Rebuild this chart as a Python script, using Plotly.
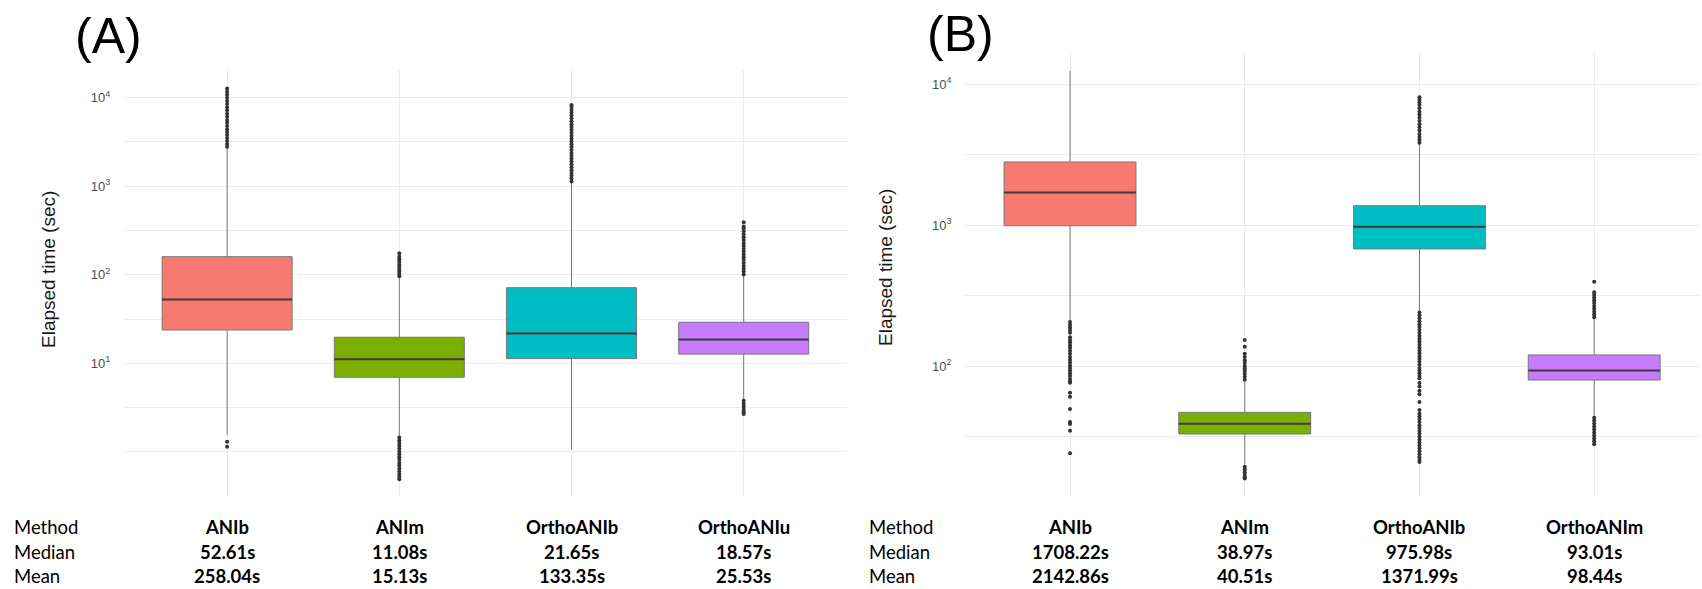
import plotly.graph_objects as go

# ---------------- data ----------------
methods_a = ["ANIb", "ANIm", "OrthoANIb", "OrthoANIu"]
median_a = [52.61, 11.08, 21.65, 18.57]
mean_a = [258.04, 15.13, 133.35, 25.53]
q1_a = [23.8, 6.95, 11.3, 12.7]
q3_a = [160, 19.7, 71.5, 29.1]
lowfence_a = [1.55, 1.52, 1.07, 3.9]
upfence_a = [2750, 94, 1110, 99]
outliers_a = [
    [1.30, 1.14, 2800, 3000, 3250, 3500, 3800, 4100, 4400, 4800, 5200, 5600, 6100,
     6600, 7200, 7800, 8500, 9200, 10000, 10800, 11700, 12700],
    [96, 102, 108, 115, 123, 131, 140, 150, 160, 175,
     1.45, 1.35, 1.26, 1.17, 1.09, 1.01, 0.94, 0.87, 0.81, 0.75, 0.70, 0.65, 0.60,
     0.56, 0.52, 0.49],
    [1130, 1220, 1310, 1410, 1520, 1640, 1770, 1900, 2050, 2210, 2380, 2570, 2770,
     2980, 3210, 3460, 3730, 4020, 4330, 4670, 5030, 5420, 5840, 6300, 6790, 7310,
     7880, 8280],
    [101, 109, 117, 126, 136, 147, 158, 170, 183, 197, 213, 229, 247, 266, 287, 310,
     335, 350, 392, 3.78, 3.5, 3.25, 3.0, 2.8, 2.67],
]

methods_b = ["ANIb", "ANIm", "OrthoANIb", "OrthoANIm"]
median_b = [1708.22, 38.97, 975.98, 93.01]
mean_b = [2142.86, 40.51, 1371.99, 98.44]
q1_b = [991, 32.9, 678, 79.5]
q3_b = [2810, 46.9, 1374, 119.8]
lowfence_b = [212, 20.1, 245, 44]
upfence_b = [12450, 77, 3800, 218]
outliers_b = [
    [205, 196, 188, 180, 172, 160, 153, 147, 140, 134, 128, 122, 116, 111, 106, 101,
     97, 93, 89, 85, 81, 78, 76, 64.5, 60.5, 49.5, 40, 38.7, 34.7, 24],
    [80, 84, 88, 92, 96, 100, 105, 110, 116, 122, 137, 153,
     19.3, 18.4, 17.6, 16.8, 16.2, 15.9],
    [3850, 4050, 4250, 4450, 4700, 4950, 5200, 5500, 5800, 6100, 6400, 6760,
     7150, 7450, 7800, 8090,
     240, 229, 218, 208, 198, 189, 180, 172, 164, 156, 149, 142, 135, 129, 123, 117,
     112, 107, 102, 97, 93, 89, 85, 82, 75.7, 71.6, 66.7, 63, 55.6, 48.7,
     46, 44, 42, 40, 38, 36.3, 34.6, 33, 31.5, 30, 28.6, 27.3, 26, 24.8, 23.6, 22.5,
     21.5, 20.8],
    [222, 232, 243, 255, 267, 280, 293, 307, 321, 334, 397,
     43, 41, 39, 37.2, 35.4, 33.7, 32.1, 30.6, 29.2, 27.8],
]

colors = ["#F8796F", "#7CAE00", "#00BFC4", "#C77CFF"]

tickvals_a = [10, 100, 1000, 10000]
ticktext_a = ["10<sup>1</sup>", "10<sup>2</sup>", "10<sup>3</sup>", "10<sup>4</sup>"]
minorvals_a = [1, 3.1623, 31.623, 316.23, 3162.3]
tickvals_b = [100, 1000, 10000]
ticktext_b = ["10<sup>2</sup>", "10<sup>3</sup>", "10<sup>4</sup>"]
minorvals_b = [31.623, 316.23, 3162.3]

# ---------------- figure ----------------
W, H = 1702, 589
BOXW = 0.755
fig = go.Figure()

GRID = "#ececec"
BOXLINE = "#777777"
MEDLINE = "#3d3d3d"
OUTC = "#333333"


def add_panel(methods, q1, med, q3, lf, uf, outl, xa, ya):
    for i, m in enumerate(methods):
        pos = i + 1
        fig.add_trace(go.Box(
            x=[pos], q1=[q1[i]], median=[med[i]], q3=[q3[i]],
            lowerfence=[lf[i]], upperfence=[uf[i]],
            width=BOXW, whiskerwidth=0, boxpoints=False,
            fillcolor=colors[i], line=dict(color=BOXLINE, width=1),
            xaxis=xa, yaxis=ya, showlegend=False, name=m,
        ))
        # darker median bar, as in the reference
        fig.add_trace(go.Scatter(
            x=[pos - BOXW / 2, pos + BOXW / 2], y=[med[i], med[i]], mode="lines",
            line=dict(color=MEDLINE, width=2), xaxis=xa, yaxis=ya,
            showlegend=False, hoverinfo="skip",
        ))
        fig.add_trace(go.Scatter(
            x=[pos] * len(outl[i]), y=outl[i], mode="markers",
            marker=dict(size=4, color=OUTC, line=dict(width=0)),
            xaxis=xa, yaxis=ya, showlegend=False, hoverinfo="y",
        ))


add_panel(methods_a, q1_a, median_a, q3_a, lowfence_a, upfence_a, outliers_a, "x", "y")
add_panel(methods_b, q1_b, median_b, q3_b, lowfence_b, upfence_b, outliers_b, "x2", "y2")

xcommon = dict(range=[0.4, 4.6], tickvals=[1, 2, 3, 4], showticklabels=False,
               showgrid=True, gridcolor=GRID, gridwidth=1, zeroline=False,
               showline=False, ticks="", fixedrange=True)
ycommon = dict(type="log", showgrid=True, gridcolor=GRID, gridwidth=1,
               zeroline=False, showline=False, ticks="outside", ticklen=10,
               tickcolor="rgba(0,0,0,0)",
               tickfont=dict(family="Liberation Sans, Arial, sans-serif", size=13, color="#4d4d4d"))

fig.update_layout(
    width=W, height=H,
    margin=dict(l=0, r=0, t=0, b=0),
    paper_bgcolor="white", plot_bgcolor="white",
    xaxis=dict(domain=[123.8 / W, 847 / W], anchor="y", **xcommon),
    yaxis=dict(domain=[1 - 497 / H, 1 - 70 / H], anchor="x", range=[-0.510, 4.313],
               tickvals=tickvals_a, ticktext=ticktext_a,
               minor=dict(tickmode="array", tickvals=minorvals_a, showgrid=True,
                          gridcolor=GRID, gridwidth=1, ticks=""),
               **ycommon),
    xaxis2=dict(domain=[965.2 / W, 1699 / W], anchor="y2", **xcommon),
    yaxis2=dict(domain=[1 - 496.7 / H, 1 - 50.7 / H], anchor="x2", range=[1.072, 4.239],
                tickvals=tickvals_b, ticktext=ticktext_b,
                minor=dict(tickmode="array", tickvals=minorvals_b, showgrid=True,
                           gridcolor=GRID, gridwidth=1, ticks=""),
                **ycommon),
)

ann = []
TITLEF = dict(family="Liberation Sans, Arial, sans-serif", size=50, color="black")
ann.append(dict(text="(A)", x=108.5 / W, y=1 - 36 / H, xref="paper", yref="paper",
                xanchor="center", yanchor="middle", showarrow=False, font=TITLEF))
ann.append(dict(text="(B)", x=960.5 / W, y=1 - 34 / H, xref="paper", yref="paper",
                xanchor="center", yanchor="middle", showarrow=False, font=TITLEF))

YTF = dict(family="Liberation Sans, Arial, sans-serif", size=19, color="#1a1a1a")
ann.append(dict(text="Elapsed time (sec)", x=48 / W, y=1 - 270 / H, xref="paper", yref="paper",
                textangle=-90, xanchor="center", yanchor="middle", showarrow=False, font=YTF))
ann.append(dict(text="Elapsed time (sec)", x=885 / W, y=1 - 268 / H, xref="paper", yref="paper",
                textangle=-90, xanchor="center", yanchor="middle", showarrow=False, font=YTF))

TF = dict(family="Lato, 'Open Sans', sans-serif", size=18.5, color="black")
row_y = [1 - 527 / H, 1 - 551.7 / H, 1 - 576 / H]
row_names = ["Method", "Median", "Mean"]
for lx in [12 / W, 866.7 / W]:
    for name, ry in zip(row_names, row_y):
        ann.append(dict(text=name, x=lx, y=ry, xref="paper", yref="paper",
                        xanchor="left", yanchor="middle", showarrow=False, font=TF))


def table(methods, med, mean, xref):
    for i, m in enumerate(methods):
        vals = [m, f"{med[i]:.2f}s", f"{mean[i]:.2f}s"]
        for v, ry in zip(vals, row_y):
            ann.append(dict(text=f"<b>{v}</b>", x=i + 1, y=ry, xref=xref, yref="paper",
                            xanchor="center", yanchor="middle", showarrow=False, font=TF))


table(methods_a, median_a, mean_a, "x")
table(methods_b, median_b, mean_b, "x2")

fig.update_layout(annotations=ann)
fig.write_html("out.html", config={"displayModeBar": False},
               post_script="document.body.style.margin='0px';document.body.style.overflow='hidden';")
